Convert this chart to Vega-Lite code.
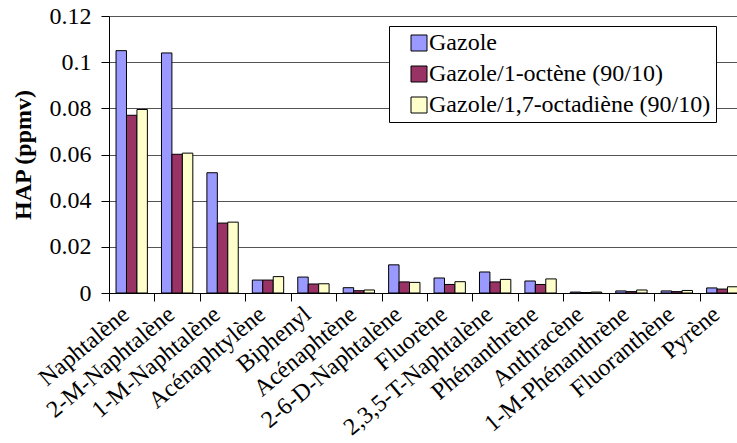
{
  "$schema": "https://vega.github.io/schema/vega-lite/v6.json",
  "width": 628,
  "height": 277,
  "autosize": {"type": "none"},
  "padding": {"left": 109, "top": 16, "right": 0, "bottom": 150},
  "background": "white",
  "config": {"font": "Liberation Serif", "view": {"stroke": null}},
  "data": {"values": [
    {"c": "Naphtalène", "s": "Gazole", "v": 0.105},
    {"c": "Naphtalène", "s": "Gazole/1-octène (90/10)", "v": 0.077},
    {"c": "Naphtalène", "s": "Gazole/1,7-octadiène (90/10)", "v": 0.0795},
    {"c": "2-M-Naphtalène", "s": "Gazole", "v": 0.104},
    {"c": "2-M-Naphtalène", "s": "Gazole/1-octène (90/10)", "v": 0.0601},
    {"c": "2-M-Naphtalène", "s": "Gazole/1,7-octadiène (90/10)", "v": 0.0606},
    {"c": "1-M-Naphtalène", "s": "Gazole", "v": 0.0521},
    {"c": "1-M-Naphtalène", "s": "Gazole/1-octène (90/10)", "v": 0.0303},
    {"c": "1-M-Naphtalène", "s": "Gazole/1,7-octadiène (90/10)", "v": 0.0307},
    {"c": "Acénaphtylène", "s": "Gazole", "v": 0.0056},
    {"c": "Acénaphtylène", "s": "Gazole/1-octène (90/10)", "v": 0.0056},
    {"c": "Acénaphtylène", "s": "Gazole/1,7-octadiène (90/10)", "v": 0.0071},
    {"c": "Biphenyl", "s": "Gazole", "v": 0.0069},
    {"c": "Biphenyl", "s": "Gazole/1-octène (90/10)", "v": 0.0039},
    {"c": "Biphenyl", "s": "Gazole/1,7-octadiène (90/10)", "v": 0.004},
    {"c": "Acénaphtène", "s": "Gazole", "v": 0.0023},
    {"c": "Acénaphtène", "s": "Gazole/1-octène (90/10)", "v": 0.001},
    {"c": "Acénaphtène", "s": "Gazole/1,7-octadiène (90/10)", "v": 0.0013},
    {"c": "2-6-D-Naphtalène", "s": "Gazole", "v": 0.0122},
    {"c": "2-6-D-Naphtalène", "s": "Gazole/1-octène (90/10)", "v": 0.0048},
    {"c": "2-6-D-Naphtalène", "s": "Gazole/1,7-octadiène (90/10)", "v": 0.0046},
    {"c": "Fluorène", "s": "Gazole", "v": 0.0065},
    {"c": "Fluorène", "s": "Gazole/1-octène (90/10)", "v": 0.0037},
    {"c": "Fluorène", "s": "Gazole/1,7-octadiène (90/10)", "v": 0.0049},
    {"c": "2,3,5-T-Naphtalène", "s": "Gazole", "v": 0.0091},
    {"c": "2,3,5-T-Naphtalène", "s": "Gazole/1-octène (90/10)", "v": 0.0048},
    {"c": "2,3,5-T-Naphtalène", "s": "Gazole/1,7-octadiène (90/10)", "v": 0.0059},
    {"c": "Phénanthrène", "s": "Gazole", "v": 0.0052},
    {"c": "Phénanthrène", "s": "Gazole/1-octène (90/10)", "v": 0.0037},
    {"c": "Phénanthrène", "s": "Gazole/1,7-octadiène (90/10)", "v": 0.0061},
    {"c": "Anthracène", "s": "Gazole", "v": 0.0004},
    {"c": "Anthracène", "s": "Gazole/1-octène (90/10)", "v": 0.0002},
    {"c": "Anthracène", "s": "Gazole/1,7-octadiène (90/10)", "v": 0.0004},
    {"c": "1-M-Phénanthrène", "s": "Gazole", "v": 0.0009},
    {"c": "1-M-Phénanthrène", "s": "Gazole/1-octène (90/10)", "v": 0.0006},
    {"c": "1-M-Phénanthrène", "s": "Gazole/1,7-octadiène (90/10)", "v": 0.0013},
    {"c": "Fluoranthène", "s": "Gazole", "v": 0.0009},
    {"c": "Fluoranthène", "s": "Gazole/1-octène (90/10)", "v": 0.0006},
    {"c": "Fluoranthène", "s": "Gazole/1,7-octadiène (90/10)", "v": 0.0011},
    {"c": "Pyrène", "s": "Gazole", "v": 0.0022},
    {"c": "Pyrène", "s": "Gazole/1-octène (90/10)", "v": 0.0017},
    {"c": "Pyrène", "s": "Gazole/1,7-octadiène (90/10)", "v": 0.0027}
  ]},
  "mark": {"type": "bar", "stroke": "black", "strokeWidth": 1},
  "encoding": {
    "x": {
      "field": "c", "type": "nominal", "sort": null,
      "scale": {"range": [0, 636], "paddingInner": 0.31, "paddingOuter": 0.155},
      "axis": {
        "title": null,
        "labelAngle": -40,
        "labelAlign": "right",
        "labelBaseline": "middle",
        "labelFont": "Liberation Serif",
        "labelFontSize": 24,
        "labelColor": "black",
        "labelPadding": 10,
        "labelLimit": 400,
        "labelOverlap": false,
        "tickOffset": -22.714,
        "labelOffset": 16.7,
        "tickSize": 8,
        "tickColor": "black",
        "domainColor": "black",
        "grid": false
      }
    },
    "xOffset": {"field": "s", "type": "nominal", "sort": null, "scale": {"paddingInner": 0, "paddingOuter": 0}},
    "y": {
      "field": "v", "type": "quantitative",
      "scale": {"domain": [0, 0.12001], "nice": false},
      "axis": {
        "title": "HAP (ppmv)",
        "titleFont": "Liberation Serif",
        "titleFontSize": 24,
        "titleFontWeight": "bold",
        "titleColor": "black",
        "titlePadding": 14,
        "values": [0, 0.02, 0.04, 0.06, 0.08, 0.1, 0.12],
        "format": "~g",
        "labelFont": "Liberation Serif",
        "labelFontSize": 24,
        "labelColor": "black",
        "labelPadding": 10,
        "tickSize": 8,
        "tickColor": "black",
        "domainColor": "black",
        "grid": true,
        "gridColor": "#555555",
        "gridWidth": 1
      }
    },
    "color": {
      "field": "s", "type": "nominal", "sort": null,
      "scale": {
        "domain": ["Gazole", "Gazole/1-octène (90/10)", "Gazole/1,7-octadiène (90/10)"],
        "range": ["#9999FF", "#993366", "#FFFFCC"]
      },
      "legend": {
        "title": null,
        "orient": "none",
        "legendX": 280,
        "legendY": 10,
        "strokeColor": "black",
        "fillColor": "white",
        "padding": 5,
        "symbolType": "square",
        "symbolSize": 256,
        "symbolStrokeColor": "black",
        "symbolStrokeWidth": 1,
        "symbolOpacity": 1,
        "symbolOffset": 13,
        "labelFont": "Liberation Serif",
        "labelFontSize": 24,
        "labelColor": "black",
        "labelOffset": -2,
        "labelLimit": 400,
        "rowPadding": 7
      }
    }
  }
}
